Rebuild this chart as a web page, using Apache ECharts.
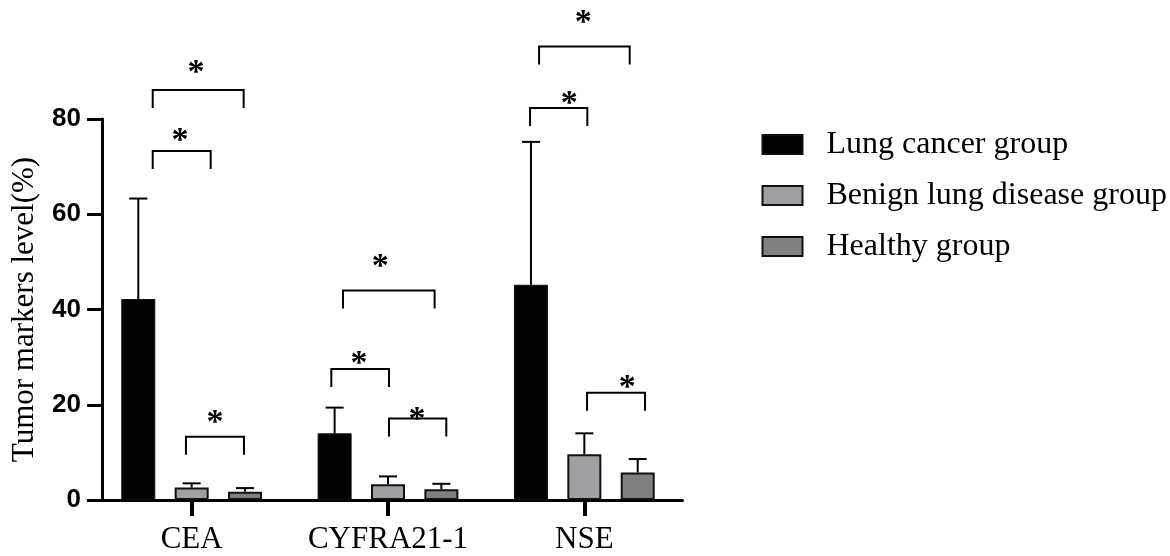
<!DOCTYPE html>
<html>
<head>
<meta charset="utf-8">
<script src="https://cdn.jsdelivr.net/npm/echarts@6/dist/echarts.min.js"></script>
<style>
html,body{margin:0;padding:0;background:#fff;}
#chart{width:1170px;height:556px;}
</style>
</head>
<body>
<div id="chart"></div>
<script>
// ---------- data ----------
const categories = ['CEA', 'CYFRA21-1', 'NSE'];
const groups = ['Lung cancer group', 'Benign lung disease group', 'Healthy group'];
const lungMean = [42.2, 14.0, 45.2];
const lungUpper = [63.3, 19.4, 75.2];
const benignMean = [2.6, 3.3, 9.6];
const benignUpper = [3.5, 4.95, 14.0];
const healthyMean = [1.75, 2.25, 5.8];
const healthyUpper = [2.5, 3.4, 8.6];
const yTicks = [0, 20, 40, 60, 80];
// significance brackets: [category index, from (bar slot), to (bar slot), level]
const sigBrackets = [
  [0, -0.73, 0.356, 73.3],
  [0, -0.73, 0.974, 86.1],
  [0, -0.107, 0.98, 13.3],
  [1, -0.843, 0.873, 44.0],
  [1, -1.062, 0.019, 27.5],
  [1, 0.019, 1.092, 17.1],
  [2, -0.848, 0.85, 95.2],
  [2, -1.017, 0.056, 82.3],
  [2, 0.051, 1.137, 22.5]
];
// significance stars: [category index, bar slot, level]
const sigStars = [
  [0, -0.219, 76.7],
  [0, 0.08, 91.0],
  [0, 0.436, 17.5],
  [1, -0.144, 50.3],
  [1, -0.543, 30.0],
  [1, 0.543, 18.2],
  [2, -0.019, 101.5],
  [2, -0.281, 84.6],
  [2, 0.805, 24.85]
];

// ---------- layout / style ----------
const BAR_W = 34;
const BAR_GAP = 0.57;
const SLOT = BAR_W * (1 + BAR_GAP);
const LEG = 18;
const CAP = 9;
const colors = ['#000000', '#a0a0a4', '#808080'];
const serif = 'Liberation Serif';
const sans = 'Liberation Sans';

const chart = echarts.init(document.getElementById('chart'), null, {renderer: 'canvas'});

function barSeries(name, values, color, bw) {
  return {
    name: name,
    type: 'bar',
    data: values,
    barWidth: BAR_W,
    barGap: (BAR_GAP * 100) + '%',
    itemStyle: {color: color, borderColor: '#111', borderWidth: bw},
    z: 2
  };
}

function errSeries(mean, upper, slotIdx) {
  return {
    type: 'custom',
    data: categories.map((c, i) => [i, mean[i], upper[i]]),
    encode: {x: 0, y: [1, 2]},
    z: 3,
    silent: true,
    renderItem: function (params, api) {
      const p0 = api.coord([api.value(0), api.value(1)]);
      const p1 = api.coord([api.value(0), api.value(2)]);
      const x = p0[0] + slotIdx * SLOT;
      return {
        type: 'group',
        children: [
          {type: 'line', shape: {x1: x, y1: p0[1], x2: x, y2: p1[1]}, style: {stroke: '#000', lineWidth: 2}},
          {type: 'line', shape: {x1: x - CAP, y1: p1[1], x2: x + CAP, y2: p1[1]}, style: {stroke: '#000', lineWidth: 2}}
        ]
      };
    }
  };
}

const option = {
  animation: false,
  backgroundColor: '#ffffff',
  grid: {left: 93.5, top: 119, width: 589, height: 381, containLabel: false},
  legend: {
    data: groups,
    orient: 'vertical',
    left: 761.5,
    top: 128.5,
    padding: 0,
    itemWidth: 40,
    itemHeight: 19,
    itemGap: 19,
    icon: 'rect',
    textStyle: {fontFamily: serif, fontSize: 32, color: '#000', lineHeight: 32, padding: [0, 0, 0, 19]}
  },
  xAxis: {
    type: 'category',
    data: categories,
    axisLine: {lineStyle: {color: '#000', width: 3}},
    axisTick: {show: true, alignWithLabel: true, length: 16, lineStyle: {color: '#000', width: 4}},
    axisLabel: {interval: 0, fontFamily: serif, fontSize: 31, color: '#000', margin: 24}
  },
  yAxis: {
    type: 'value',
    min: yTicks[0],
    max: yTicks[yTicks.length - 1],
    interval: yTicks[1] - yTicks[0],
    offset: -8.5,
    splitLine: {show: false},
    axisLine: {show: true, lineStyle: {color: '#000', width: 3}},
    axisTick: {show: true, length: 15, lineStyle: {color: '#000', width: 3}},
    axisLabel: {fontFamily: sans, fontWeight: 'bold', fontSize: 26, color: '#000', margin: 21},
    name: 'Tumor markers level(%)',
    nameLocation: 'middle',
    nameGap: 62,
    nameTextStyle: {fontFamily: serif, fontSize: 31, color: '#000'}
  },
  series: [
    barSeries(groups[0], lungMean, colors[0], 1),
    barSeries(groups[1], benignMean, colors[1], 2),
    barSeries(groups[2], healthyMean, colors[2], 2),
    errSeries(lungMean, lungUpper, -1),
    errSeries(benignMean, benignUpper, 0),
    errSeries(healthyMean, healthyUpper, 1),
    {
      type: 'custom',
      data: sigBrackets,
      encode: {x: 0, y: 3},
      z: 4,
      silent: true,
      clip: false,
      renderItem: function (params, api) {
        const c = api.coord([api.value(0), api.value(3)]);
        const x1 = c[0] + api.value(1) * SLOT;
        const x2 = c[0] + api.value(2) * SLOT;
        const y = c[1];
        return {
          type: 'polyline',
          shape: {points: [[x1, y + LEG], [x1, y], [x2, y], [x2, y + LEG]]},
          style: {stroke: '#000', lineWidth: 2, fill: null}
        };
      }
    },
    {
      type: 'custom',
      data: sigStars,
      encode: {x: 0, y: 2},
      z: 4,
      silent: true,
      clip: false,
      renderItem: function (params, api) {
        const c = api.coord([api.value(0), api.value(2)]);
        return {
          type: 'text',
          style: {
            text: '*',
            x: c[0] + api.value(1) * SLOT,
            y: c[1] + 7,
            font: 'bold 34px "Liberation Serif"',
            align: 'center',
            verticalAlign: 'middle',
            fill: '#000'
          }
        };
      }
    }
  ]
};
chart.setOption(option);
</script>
</body>
</html>
